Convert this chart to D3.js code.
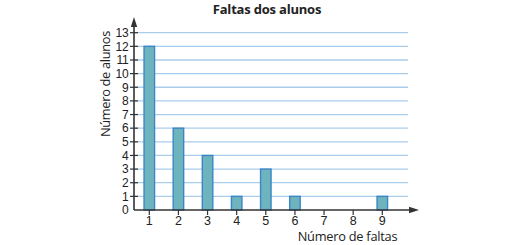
<!DOCTYPE html>
<html><head><meta charset="utf-8">
<script src="https://cdn.jsdelivr.net/npm/d3@7"></script>
<style>body{margin:0;background:#fff}svg{display:block}text{font-family:"Open Sans",sans-serif;fill:#222}</style>
</head><body>
<svg id="c" width="520" height="245"></svg>
<script>
const categories = [1,2,3,4,5,6,7,8,9];
const values = [12,6,4,1,3,1,0,0,1];
const yTicks = [0,1,2,3,4,5,6,7,8,9,10,11,12,13];
const title = "Faltas dos alunos";
const xTitle = "Número de faltas";
const yTitle = "Número de alunos";

const svg = d3.select("#c");
const x = d3.scaleLinear().domain([1,9]).range([149.3,382.3]);
const y = d3.scaleLinear().domain([0,13]).range([210,32.7]);
const axisX = 134, gridEnd = 408;

// gridlines
svg.append("g").selectAll("line").data(yTicks.filter(d=>d>0)).join("line")
  .attr("x1",axisX).attr("x2",gridEnd).attr("y1",d=>y(d)).attr("y2",d=>y(d))
  .attr("stroke","#a9cdeb").attr("stroke-width",1.3);

// bars
const bw = 10.5;
svg.append("g").selectAll("rect").data(categories.map((c,i)=>({c,v:values[i]})).filter(d=>d.v>0)).join("rect")
  .attr("x",d=>x(d.c)-bw/2).attr("width",bw)
  .attr("y",d=>y(d.v)).attr("height",d=>y(0)-y(d.v))
  .attr("fill","#6db4be").attr("stroke","#3d86c6").attr("stroke-width",1.4);

// axes
const ax = "#333";
svg.append("line").attr("x1",axisX).attr("x2",axisX).attr("y1",y(0)).attr("y2",24).attr("stroke",ax).attr("stroke-width",1.6);
svg.append("path").attr("d",`M${axisX},17 L${axisX-3.2},27 L${axisX+3.2},27 Z`).attr("fill",ax);
svg.append("line").attr("x1",axisX).attr("x2",412).attr("y1",y(0)).attr("y2",y(0)).attr("stroke",ax).attr("stroke-width",1.6);
svg.append("path").attr("d",`M419,${y(0)} L409,${y(0)-3.2} L409,${y(0)+3.2} Z`).attr("fill",ax);

// y ticks
const gy = svg.append("g");
gy.selectAll("line").data(yTicks.filter(d=>d>0)).join("line")
  .attr("x1",axisX-4).attr("x2",axisX+4).attr("y1",d=>y(d)).attr("y2",d=>y(d))
  .attr("stroke",ax).attr("stroke-width",1.2);
gy.selectAll("text").data(yTicks).join("text")
  .attr("x",128.5).attr("y",d=>y(d)).attr("dy","0.36em").attr("text-anchor","end")
  .style("font-family","'Liberation Sans',Arial,sans-serif")
  .attr("font-size",12).attr("letter-spacing",-0.2).text(d=>d);

// x ticks
const gx = svg.append("g");
gx.selectAll("line").data(categories).join("line")
  .attr("x1",d=>x(d)).attr("x2",d=>x(d)).attr("y1",y(0)).attr("y2",y(0)+5)
  .attr("stroke",ax).attr("stroke-width",1.2);
gx.selectAll("text").data(categories).join("text")
  .attr("x",d=>x(d)).attr("y",224.5).attr("text-anchor","middle")
  .style("font-family","'Liberation Sans',Arial,sans-serif")
  .attr("font-size",12.5).text(d=>d);

// titles
svg.append("text").attr("x",267).attr("y",14).attr("text-anchor","middle")
  .attr("font-size",13).attr("font-weight","bold").attr("letter-spacing",-0.2).text(title);
svg.append("text").attr("x",347.5).attr("y",241.3).attr("text-anchor","middle")
  .attr("font-size",12.8).attr("letter-spacing",-0.25).text(xTitle);
svg.append("text").attr("transform","translate(109.5,84) rotate(-90)").attr("text-anchor","middle")
  .attr("font-size",12.8).attr("letter-spacing",-0.3).text(yTitle);
</script>
</body></html>
